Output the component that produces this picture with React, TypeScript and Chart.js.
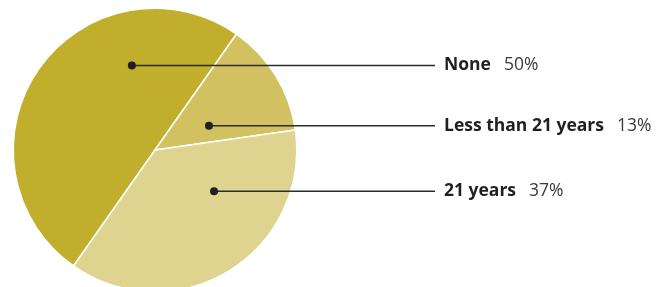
import React, { useEffect, useRef } from "react";
import { Chart, registerables } from "chart.js";

Chart.register(...registerables);

const categories = ["None", "Less than 21 years", "21 years"];
const values = [50, 13, 37];
const percentLabels = ["50%", "13%", "37%"];
const sliceColors = ["#c0ae2c", "#d1c160", "#dfd48f"];

// dot anchors: angle (deg clockwise from top) and fraction of radius
const dotAnchors = [
  { angle: 344.7, frac: 0.618 },
  { angle: 65.9, frac: 0.417 },
  { angle: 124.9, frac: 0.508 },
];

const labelPlugin = {
  id: "leaderLabels",
  afterDraw(chart: any) {
    const meta = chart.getDatasetMeta(0);
    const ctx = chart.ctx;
    const lineEndX = 435;
    const textX = 444;
    meta.data.forEach((arc: any, i: number) => {
      const a = dotAnchors[i];
      const rad = (a.angle * Math.PI) / 180;
      const r = arc.outerRadius * a.frac;
      const dx = arc.x + Math.sin(rad) * r;
      const dy = arc.y - Math.cos(rad) * r;
      ctx.save();
      ctx.strokeStyle = "#2b2b2b";
      ctx.lineWidth = 1.5;
      ctx.beginPath();
      ctx.moveTo(dx, dy);
      ctx.lineTo(lineEndX, dy);
      ctx.stroke();
      ctx.fillStyle = "#231f20";
      ctx.beginPath();
      ctx.arc(dx, dy, 4, 0, Math.PI * 2);
      ctx.fill();
      ctx.textBaseline = "middle";
      ctx.textAlign = "left";
      ctx.font = "bold 17.5px 'Open Sans'";
      ctx.fillStyle = "#231f20";
      ctx.fillText(categories[i], textX, dy);
      const w = ctx.measureText(categories[i]).width;
      ctx.font = "17.5px 'Open Sans'";
      ctx.fillStyle = "#3a3a3a";
      ctx.fillText(percentLabels[i], textX + w + 13, dy);
      ctx.restore();
    });
  },
};

export default function App() {
  const ref = useRef<HTMLCanvasElement>(null);
  useEffect(() => {
    document.body.style.margin = "0";
    const chart = new Chart(ref.current!, {
      type: "pie",
      data: {
        labels: categories,
        datasets: [
          {
            data: values,
            backgroundColor: sliceColors,
            borderColor: "#ffffff",
            borderWidth: 1.5,
          },
        ],
      },
      options: {
        responsive: false,
        animation: false,
        rotation: 215.1,
        layout: { padding: { left: 12.5, right: 374.5, top: 7.5, bottom: 0.5 } },
        plugins: { legend: { display: false }, tooltip: { enabled: false } },
      },
      plugins: [labelPlugin],
    });
    return () => chart.destroy();
  }, []);
  return (
    <div style={{ width: 672, height: 287, overflow: "hidden" }}>
      <canvas ref={ref} width={672} height={293} style={{ display: "block" }} />
    </div>
  );
}
